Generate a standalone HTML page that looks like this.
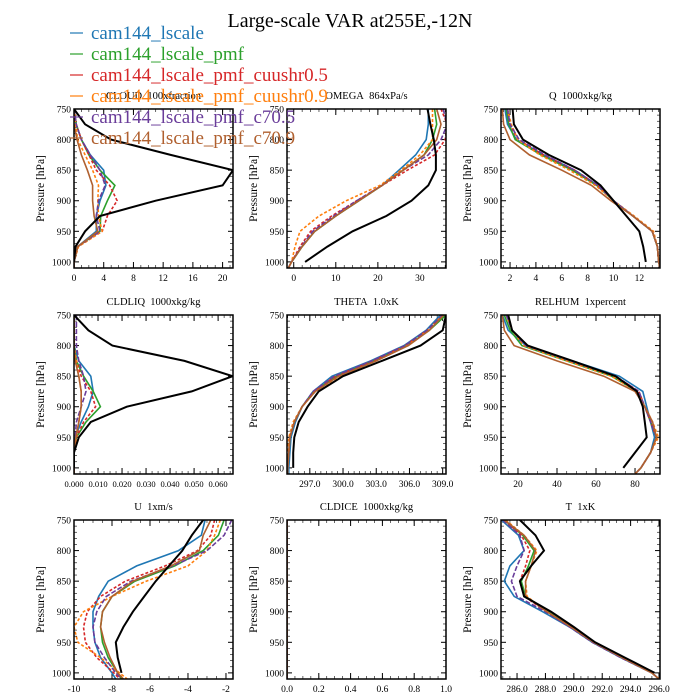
<!DOCTYPE html>
<html><head><meta charset="utf-8"><style>
html,body{margin:0;padding:0;background:#fff;}
svg{display:block;font-family:"Liberation Serif",serif;}
</style></head><body>
<svg id="chart" width="700" height="700" viewBox="0 0 700 700" xmlns="http://www.w3.org/2000/svg"></svg>
<script>
const levels = [750,775,800,825,850,875,900,925,950,975,1000,1010];
const obsLevels = [750,775,800,825,850,875,900,925,950,975,1000];
const seriesNames = ["cam144_lscale","cam144_lscale_pmf","cam144_lscale_pmf_cuushr0.5","cam144_lscale_pmf_cuushr0.9","cam144_lscale_pmf_c70.5","cam144_lscale_pmf_c70.9"];
const seriesColors = ["#1f77b4","#2ca02c","#d62728","#ff7f0e","#6a3d9a","#b0602f"];
const seriesDash = ["","","3,2","3,2","5,2",""];

const cloudObs = [0,1.5,5,13,21.4,20,11,3.5,1.5,0.2,0];
const cloudSim = [
 [0,0.3,1,2.2,4,4.3,3.5,3,3,0.5,0,0],
 [0,0.3,1,2,3.5,5.5,4.5,3.6,3.5,0.5,0,0],
 [0,0.3,1,2,3,4.8,5.8,4.5,3.8,0.5,0,0],
 [0,0.2,0.5,1.5,2.5,3.3,3.2,3.3,3.8,0.6,0,0],
 [0,0.3,1,2.2,3.5,4.2,3.3,3,3.5,0.5,0,0],
 [0,0,0.4,1,1.8,2.5,2.5,2.7,3.2,0.5,0,0]];
const omegaObs = [31.8,32.5,33.3,33.8,33.8,32,28,22,14,8,2.7];
const omegaSim = [
 [32,32,31.5,29,25,21,15.5,10,5,2,-0.5,-1.3],
 [33.5,34,33,31,26,21,15.5,10,5,2,-0.5,-1.3],
 [35,36.5,36,33.5,27,21,15,9,4,1.5,-0.5,-1.3],
 [33,33,33,30,25.5,20.5,12.5,6,1.5,0.3,-0.5,-1.3],
 [35.5,36.5,35,32,26,21,15,9.5,4.5,1.8,-0.5,-1.3],
 [34,35,34,31,26,21,15.5,10,5,2,-0.5,-1.3]];
const qObs = [2.2,2.3,3,5,7.5,9,10,11,12,12.3,12.5];
const qSim = [
 [1.6,1.8,2.5,4.6,7,8.8,10,11.5,13,13.4,13.5,13.6],
 [1.7,1.9,2.4,4.4,6.8,8.7,10,11.5,13,13.4,13.5,13.6],
 [1.8,2,2.6,4.6,7,8.8,10,11.5,13,13.4,13.5,13.6],
 [1.8,2.1,2.6,4.3,6.6,8.6,10,11.6,13.1,13.4,13.5,13.6],
 [1.8,2,2.7,4.7,7,8.8,10,11.5,13,13.4,13.5,13.6],
 [1.4,1.5,2,3.5,6,8.3,9.8,11.5,13,13.4,13.5,13.6]];
const liqObs = [0,0.006,0.016,0.046,0.066,0.049,0.022,0.007,0.002,0,0];
const liqSim = [
 [0,0,0,0.002,0.007,0.008,0.006,0.003,0.0005,0,0,0],
 [0,0,0,0.001,0.004,0.008,0.011,0.005,0.001,0,0,0],
 [0,0,0,0.001,0.003,0.007,0.009,0.004,0.001,0,0,0],
 [0,0,0,0.001,0.002,0.003,0.003,0.002,0.001,0,0,0],
 [0.001,0.001,0.001,0.002,0.004,0.005,0.003,0.001,0.0005,0,0,0],
 [0,0,0,0.0005,0.002,0.003,0.003,0.002,0.0008,0,0,0]];
const thetaObs = [309.3,309,307,303.5,300,297.8,296.8,296,295.6,295.5,295.5];
const thetaSim = [
 [308.8,307.5,305.5,302.5,299,297.3,296.3,295.7,295.3,295.2,295.1,295.1],
 [309.3,307.8,305.8,302.8,299.4,297.4,296.3,295.6,295.2,295.1,295,295],
 [309,307.6,305.6,302.7,299.3,297.4,296.3,295.6,295.2,295.1,295,295],
 [309,307.7,305.8,303,299.7,297.5,296.3,295.5,295.1,295,295,294.95],
 [309,307.6,305.6,302.6,299.2,297.3,296.3,295.6,295.2,295.1,295,295],
 [309.1,307.8,305.9,303,299.6,297.5,296.3,295.6,295.2,295.1,295,295]];
const rhObs = [15,17,25,48,70,81,84,85,86,80,74];
const rhSim = [
 [12,15,24,48,72,84,86,88,90,88,83,80],
 [13,16,22,45,68,81,85,88,91,88,83,80],
 [14,17,24,47,70,82,85,88,91,88,83,80],
 [14,17,23,45,68,81,85,89,92,88,83,80],
 [14,17,24,47,70,82,85,88,91,88,83,80],
 [12,13,18,40,64,80,85,89,91,88,83,80]];
const uObs = [-3.2,-3.8,-4.3,-5,-5.7,-6.3,-6.9,-7.4,-7.8,-7.7,-7.5];
const uSim = [
 [-3.1,-3.3,-4.5,-6.7,-8.2,-8.7,-9,-9,-8.9,-8.6,-8,-7.8],
 [-2.1,-2.4,-3.2,-4.7,-6.8,-8,-8.5,-8.6,-8.5,-8.2,-7.7,-7.5],
 [-2.6,-2.8,-3.5,-5.2,-7.3,-8.6,-9.3,-9.5,-9.4,-8.8,-7.9,-7.6],
 [-2.3,-2.6,-3,-4,-6.2,-8,-9.5,-10,-9.8,-8.6,-7.6,-7.2],
 [-1.7,-2.1,-3,-4.8,-7,-8.3,-8.8,-9,-8.9,-8.4,-7.8,-7.5],
 [-2.8,-3.2,-3.4,-4.9,-6.9,-8,-8.5,-8.6,-8.4,-8.1,-7.7,-7.4]];
const iceSim = [
 [0,0,0,0,0,0,0,0,0,0,0,0],[0,0,0,0,0,0,0,0,0,0,0,0],[0,0,0,0,0,0,0,0,0,0,0,0],
 [0,0,0,0,0,0,0,0,0,0,0,0],[0,0,0,0,0,0,0,0,0,0,0,0],[0,0,0,0,0,0,0,0,0,0,0,0]];
const tObs = [286.2,287.3,287.9,287,286.2,286.5,288.4,290,291.5,293.6,295.7];
const tSim = [
 [284.9,286.1,286.5,285.5,285.1,285.8,287.8,289.7,291.3,293.3,295.5,296],
 [285.1,286.4,287.2,286.8,286.3,286.6,288.2,289.8,291.4,293.4,295.5,296],
 [285.1,286.3,286.9,286.6,286.2,286.5,288.1,289.8,291.4,293.4,295.5,296],
 [285.2,286.5,287.4,287,286.6,286.7,288.1,289.8,291.4,293.4,295.5,296],
 [285,286.2,286.5,286,285.6,286,288,289.7,291.3,293.3,295.5,296],
 [285.1,286.5,287.3,287,286.6,286.6,288.1,289.8,291.4,293.4,295.5,296]];

const yTicks = [750,800,850,900,950,1000];
const cloudTicks = [0,4,8,12,16,20];
const omegaTicks = [0,10,20,30];
const qTicks = [2,4,6,8,10,12];
const liqTicks = [0,0.01,0.02,0.03,0.04,0.05,0.06];
const thetaTicks = [297,300,303,306,309];
const rhTicks = [20,40,60,80];
const uTicks = [-10,-8,-6,-4,-2];
const iceTicks = [0,0.2,0.4,0.6,0.8,1.0];
const tTicks = [286,288,290,292,294,296];

const S='\u00a0\u00a0';
const panels = [
 {name:"cloud",title:"CLOUD"+S+"100xfraction",x0:74,y0:109,xmin:0,xmax:21.4,ticks:cloudTicks,minor:1,dec:0,obs:cloudObs,sim:cloudSim},
 {name:"omega",title:"OMEGA"+S+"864xPa/s",x0:287,y0:109,xmin:-1.6,xmax:36.2,ticks:omegaTicks,minor:2,dec:0,obs:omegaObs,sim:omegaSim},
 {name:"q",title:"Q"+S+"1000xkg/kg",x0:501,y0:109,xmin:1.3,xmax:13.6,ticks:qTicks,minor:0.5,dec:0,obs:qObs,sim:qSim},
 {name:"cldliq",title:"CLDLIQ"+S+"1000xkg/kg",x0:74,y0:315,xmin:0,xmax:0.0662,ticks:liqTicks,minor:0.0025,dec:3,obs:liqObs,sim:liqSim},
 {name:"theta",title:"THETA"+S+"1.0xK",x0:287,y0:315,xmin:294.94,xmax:309.3,ticks:thetaTicks,minor:0.5,dec:1,obs:thetaObs,sim:thetaSim},
 {name:"relhum",title:"RELHUM"+S+"1xpercent",x0:501,y0:315,xmin:11.3,xmax:92.8,ticks:rhTicks,minor:5,dec:0,obs:rhObs,sim:rhSim},
 {name:"u",title:"U"+S+"1xm/s",x0:74,y0:520,xmin:-10,xmax:-1.63,ticks:uTicks,minor:0.5,dec:0,obs:uObs,sim:uSim},
 {name:"cldice",title:"CLDICE"+S+"1000xkg/kg",x0:287,y0:520,xmin:0,xmax:1,ticks:iceTicks,minor:0.05,dec:1,obs:null,sim:iceSim},
 {name:"t",title:"T"+S+"1xK",x0:501,y0:520,xmin:284.87,xmax:296.07,ticks:tTicks,minor:0.5,dec:1,obs:tObs,sim:tSim}
];

const NS="http://www.w3.org/2000/svg";
const svg=document.getElementById('chart');
function mk(tag,attrs,parent){const e=document.createElementNS(NS,tag);for(const k in attrs)e.setAttribute(k,attrs[k]);(parent||svg).appendChild(e);return e;}
const W=159,H=159,PMIN=750,PMAX=1010;

const title=mk('text',{x:350,y:27,'text-anchor':'middle','font-size':20,fill:'#000'});


title.textContent='Large-scale VAR at255E,-12N';

panels.forEach(p=>{
  const g=mk('g',{});
  
  
  const xs=v=>p.x0+(v-p.xmin)/(p.xmax-p.xmin)*W;
  const ys=v=>p.y0+(v-PMIN)/(PMAX-PMIN)*H;
  const t=mk('text',{x:p.x0+W/2,y:p.y0-10,'text-anchor':'middle','font-size':10.5},g);
  
  
  t.textContent=p.title;
  const yl=mk('text',{x:0,y:0,'text-anchor':'middle','font-size':11.5,transform:`translate(${p.x0-30},${p.y0+H/2}) rotate(-90)`},g);
  
  
  yl.textContent='Pressure [hPa]';
  for(let v=750;v<=1010;v+=10){const y=ys(v);const big=yTicks.includes(v);const L=big?5:3;
    mk('line',{x1:p.x0,x2:p.x0+L,y1:y,y2:y,stroke:'#000','stroke-width':big?1:0.6},g);
    mk('line',{x1:p.x0+W,x2:p.x0+W-L,y1:y,y2:y,stroke:'#000','stroke-width':big?1:0.6},g);}
  yTicks.forEach(v=>{const lab=mk('text',{x:p.x0-3,y:ys(v)+3.5,'text-anchor':'end','font-size':9.5},g);
    
    
    lab.textContent=v;});
  const n=Math.ceil((p.xmax-p.xmin)/p.minor)+2;
  const start=Math.ceil(p.xmin/p.minor)*p.minor;
  for(let i=0;i<n;i++){const v=start+i*p.minor;if(v>p.xmax+1e-9)break;const x=xs(v);
    mk('line',{x1:x,x2:x,y1:p.y0+H,y2:p.y0+H-3,stroke:'#000','stroke-width':0.6},g);
    mk('line',{x1:x,x2:x,y1:p.y0,y2:p.y0+3,stroke:'#000','stroke-width':0.6},g);}
  p.ticks.forEach(v=>{const x=xs(v);
    mk('line',{x1:x,x2:x,y1:p.y0+H,y2:p.y0+H-6,stroke:'#000','stroke-width':1},g);
    mk('line',{x1:x,x2:x,y1:p.y0,y2:p.y0+6,stroke:'#000','stroke-width':1},g);
    const lab=mk('text',{x:x,y:p.y0+H+13,'text-anchor':'middle','font-size':p.dec===3?8.5:9.5},g);
    
    
    lab.textContent=v.toFixed(p.dec);});
  const clipId='clip-'+p.name;
  const cp=mk('clipPath',{id:clipId},g);mk('rect',{x:p.x0,y:p.y0,width:W,height:H},cp);
  const lines=mk('g',{'clip-path':`url(#${clipId})`},g);
  p.sim.forEach((vals,si)=>{
    const d=vals.map((v,i)=>(i?'L':'M')+xs(v).toFixed(1)+','+ys(levels[i]).toFixed(1)).join('');
    const pl=mk('path',{d:d,fill:'none',stroke:seriesColors[si],'stroke-width':1.6},lines);
    if(seriesDash[si])pl.setAttribute('stroke-dasharray',seriesDash[si]);
    
    
  });
  if(p.obs){
    const d=p.obs.map((v,i)=>(i?'L':'M')+xs(v).toFixed(1)+','+ys(obsLevels[i]).toFixed(1)).join('');
    const pl=mk('path',{d:d,fill:'none',stroke:'#000','stroke-width':2},lines);
    
    
  }
  mk('rect',{x:p.x0,y:p.y0,width:W,height:H,fill:'none',stroke:'#000','stroke-width':1.5},g);
});

const leg=mk('g',{});


seriesNames.forEach((nm,i)=>{
  const y=33+i*21;
  const e=mk('g',{},leg);
  
  
  mk('line',{x1:70,x2:83,y1:y,y2:y,stroke:seriesColors[i],'stroke-width':1.2},e);
  const t=mk('text',{x:91,y:y+6,'font-size':19,fill:seriesColors[i]},e);
  t.textContent=nm;
});
</script>
</body></html>
